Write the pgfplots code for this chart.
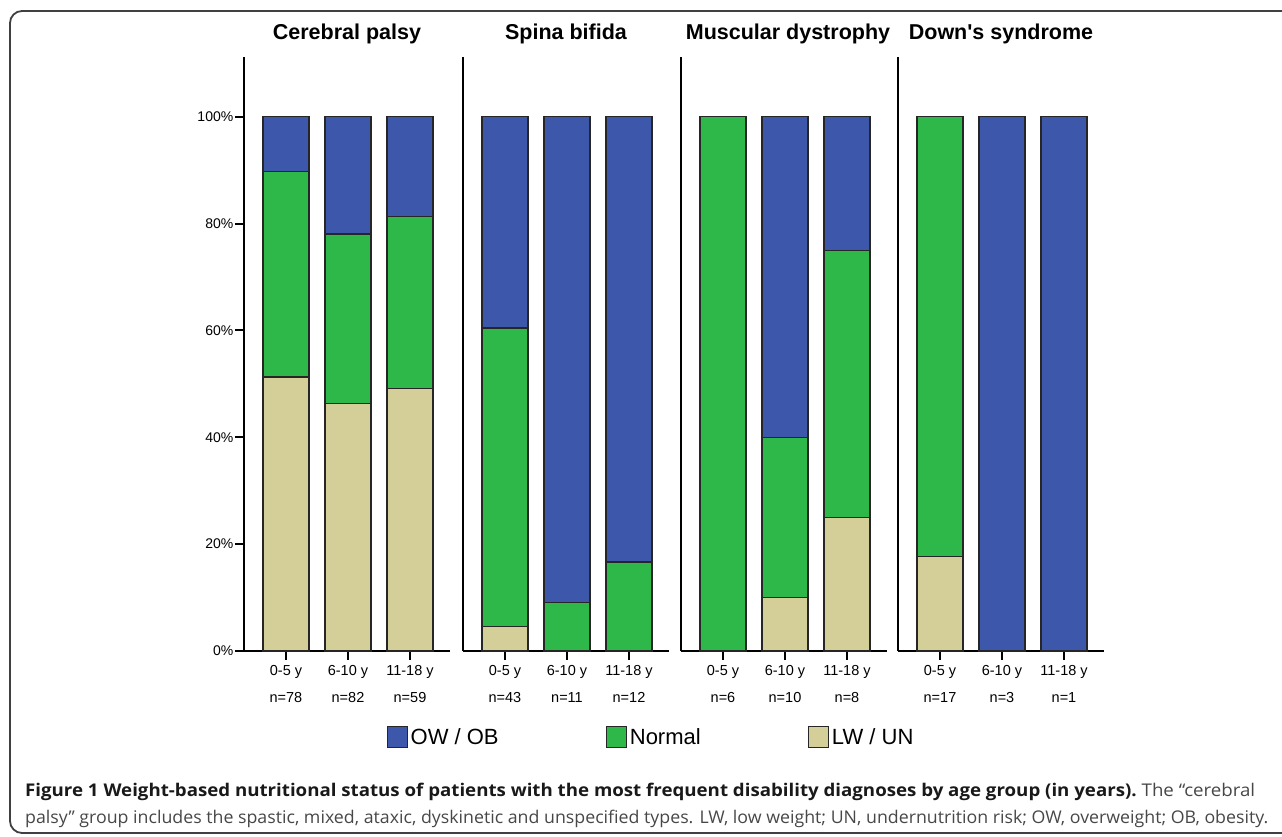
\documentclass[border=0pt]{standalone}
\usepackage{pgfplots}
\pgfplotsset{compat=1.18}
\usepackage{graphicx}
\usepackage{fontspec}
\setmainfont{Liberation Sans}
\newfontfamily\plainsans{Liberation Sans}[Ligatures=TeXOff]
\newfontfamily\capfont{Open Sans}
\definecolor{owob}{RGB}{61,88,170}
\definecolor{normal}{RGB}{46,184,74}
\definecolor{lwun}{RGB}{212,207,153}
\newsavebox\capbox
\newlength\capw
\newcommand\fitline[2]{\sbox\capbox{#2}\setlength\capw{\wd\capbox}\pgfmathsetmacro\capsc{#1/\capw}\scalebox{\capsc}[1]{\usebox\capbox}}
\pgfplotsset{
  panel/.style={
    scale only axis, width=206pt, height=594pt,
    anchor=south west,
    ybar stacked, bar width=46pt,
    xmin=-0.677, xmax=2.645, ymin=0, ymax=111.2,
    axis x line*=bottom, axis y line*=left,
    axis line style={line width=1.3pt, black},
    tick align=outside, major tick length=9pt,
    every tick/.style={line width=2pt, black},
    xtick={0,1,2},
    xticklabel style={font=\fontsize{14.5}{27}\selectfont, align=center, yshift=-2pt},
    yticklabel style={font=\fontsize{14}{16}\selectfont, inner sep=1.5pt},
    /pgf/number format/assume math mode=true,
    ytick=\empty,
    title style={font=\bfseries\fontsize{21.5}{26}\selectfont, anchor=base, at={(0.5,1)}, yshift=11pt},
    every axis plot/.append style={draw=black!85, line width=1.2pt},
    legend image code/.code={\draw[#1,draw=black!85,line width=1.2pt] (0pt,-10.5pt) rectangle (20pt,10.5pt);},
  }
}
\begin{document}
\begin{tikzpicture}[x=1pt,y=1pt]
\path[use as bounding box] (0,0) rectangle (1282,836);
\draw[line width=1.8pt, black!75, rounded corners=12pt] (10,3) rectangle (1330,825);

% Panel 1: Cerebral palsy
\begin{axis}[panel, at={(244pt,185pt)}, title={Cerebral palsy},
  ytick={0,20,40,60,80,100}, yticklabel={\pgfmathprintnumber{\tick}\%},
  xticklabels={{0-5 y\\n=78},{6-10 y\\n=82},{11-18 y\\n=59}},
  legend columns=3,
  legend style={draw=none, fill=none, inner sep=0pt, outer sep=0pt,
    at={(0.694,-0.1448)}, anchor=west,
    font=\fontsize{22}{26}\selectfont,
    nodes={inner xsep=2.5pt, inner ysep=0pt},
    /tikz/every even column/.append style={column sep=105pt}},
  legend cell align=left]
\addlegendimage{fill=owob}\addlegendentry{OW / OB}
\addlegendimage{fill=normal}\addlegendentry{Normal}
\addlegendimage{fill=lwun}\addlegendentry{LW / UN}
\addplot[fill=lwun, forget plot] coordinates {(0,51.28) (1,46.34) (2,49.15)};
\addplot[fill=normal, forget plot] coordinates {(0,38.46) (1,31.71) (2,32.20)};
\addplot[fill=owob, forget plot] coordinates {(0,10.26) (1,21.95) (2,18.64)};
\end{axis}

% Panel 2: Spina bifida
\begin{axis}[panel, at={(463pt,185pt)}, title={Spina bifida},
  xticklabels={{0-5 y\\n=43},{6-10 y\\n=11},{11-18 y\\n=12}}]
\addplot[fill=lwun] coordinates {(0,4.65) (1,0) (2,0)};
\addplot[fill=normal] coordinates {(0,55.81) (1,9.09) (2,16.67)};
\addplot[fill=owob] coordinates {(0,39.53) (1,90.91) (2,83.33)};
\end{axis}

% Panel 3: Muscular dystrophy
\begin{axis}[panel, at={(681pt,185pt)}, title={Muscular dystrophy},
  title style={xshift=4pt},
  xticklabels={{0-5 y\\n=6},{6-10 y\\n=10},{11-18 y\\n=8}}]
\addplot[fill=lwun] coordinates {(0,0) (1,10) (2,25)};
\addplot[fill=normal] coordinates {(0,100) (1,30) (2,50)};
\addplot[fill=owob] coordinates {(0,0) (1,60) (2,25)};
\end{axis}

% Panel 4: Down's syndrome
\begin{axis}[panel, at={(898pt,185pt)}, title={\plainsans\bfseries Down's syndrome},
  xticklabels={{0-5 y\\n=17},{6-10 y\\n=3},{11-18 y\\n=1}}]
\addplot[fill=lwun] coordinates {(0,17.65) (1,0) (2,0)};
\addplot[fill=normal] coordinates {(0,82.35) (1,0) (2,0)};
\addplot[fill=owob] coordinates {(0,0) (1,100) (2,100)};
\end{axis}

% Caption
\node[anchor=base west, inner sep=0pt] at (25,40) {\fitline{1230}{\capfont\fontsize{17.5}{20}\selectfont{\color{black!90}\bfseries Figure 1 Weight-based nutritional status of patients with the most frequent disability diagnoses by age group (in years).}\ {\color{black!72}The “cerebral}}};
\node[anchor=base west, inner sep=0pt] at (25,13) {\fitline{1243}{\capfont\fontsize{17.5}{20}\selectfont\color{black!72}palsy” group includes the spastic, mixed, ataxic, dyskinetic and unspecified types. LW, low weight; UN, undernutrition risk; OW, overweight; OB, obesity.}};
\end{tikzpicture}
\end{document}
